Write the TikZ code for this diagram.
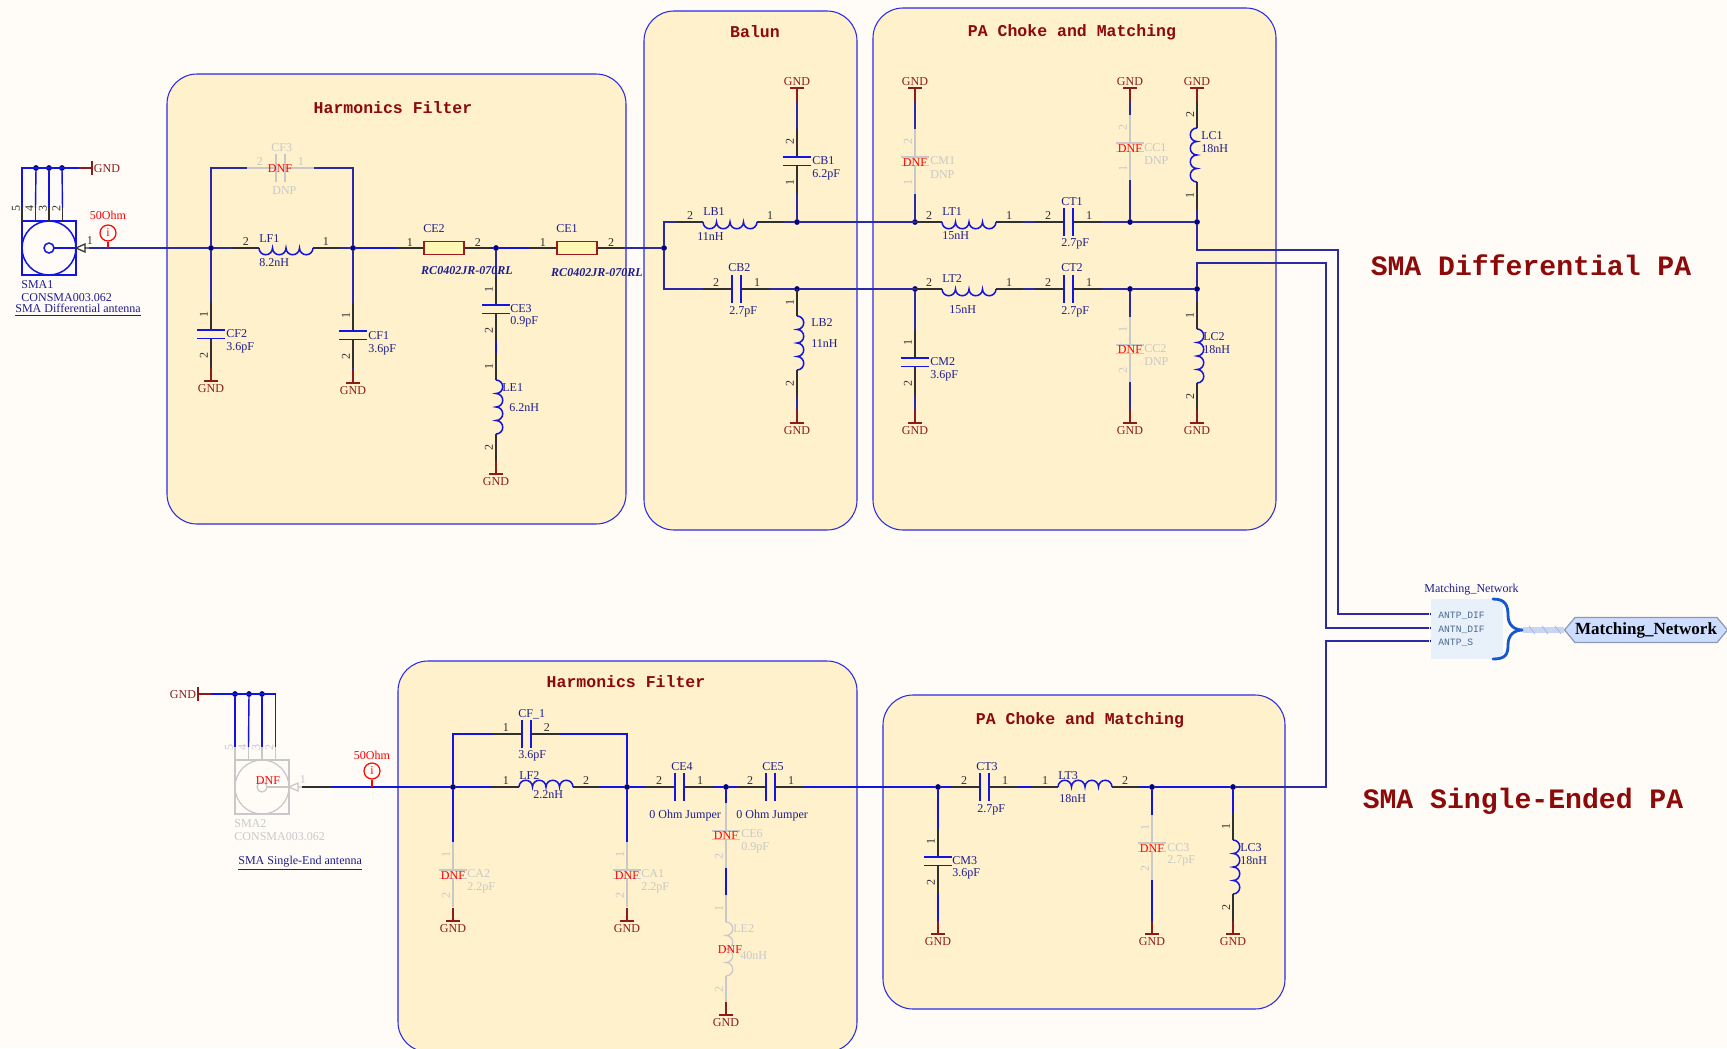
\documentclass[tikz,border=0pt]{standalone}
\usepackage{fontspec}
\setmainfont{Liberation Serif}
\setmonofont{Liberation Mono}
\usetikzlibrary{shapes.symbols,positioning}

\definecolor{paper}{HTML}{FFFCF7}
\definecolor{groupfill}{HTML}{FEF1CC}
\definecolor{groupline}{HTML}{2A2AE8}
\definecolor{wirecol}{HTML}{1414E0}
\definecolor{netcol}{HTML}{2A2AA4}
\definecolor{dotcol}{HTML}{000080}
\definecolor{leadcol}{HTML}{303030}
\definecolor{labcol}{HTML}{1E1E8C}
\definecolor{dnpcol}{HTML}{C8C8C8}
\definecolor{gndcol}{HTML}{8C1C1C}
\definecolor{titlecol}{HTML}{8C0A0A}
\definecolor{bracecol}{HTML}{1458D0}
\definecolor{rescol}{HTML}{FFF7B4}
\definecolor{portfill}{HTML}{CCDDFF}
\definecolor{portline}{HTML}{8A9AB4}
\definecolor{busfill}{HTML}{C8D6F4}
\definecolor{busmark}{HTML}{9FB4E4}
\definecolor{sheetfill}{HTML}{E8F0FA}
\definecolor{sheettext}{HTML}{4A6A90}

\tikzset{
  groupbox/.style = {draw=groupline, fill=groupfill, line width=.6pt, rounded corners=.6cm},
  grouptitle/.style = {text=titlecol, inner sep=0pt, yshift=-.5pt, font=\fontsize{9.4pt}{11pt}\selectfont\ttfamily\bfseries},
  bigtitle/.style = {text=titlecol, inner sep=0pt, font=\fontsize{16pt}{18pt}\selectfont\ttfamily\bfseries},
  wire/.style = {draw=wirecol, line width=.8pt},
  net/.style = {draw=netcol, line width=.85pt},
  lead/.style = {draw=leadcol, line width=.7pt},
  symb/.style = {draw=wirecol, line width=.85pt},
  pinno/.style = {text=leadcol, inner sep=0pt, yshift=-.5pt, font=\fontsize{6.85pt}{8pt}\selectfont},
  lab/.style = {text=labcol, anchor=west, inner sep=0pt, yshift=-.5pt, font=\fontsize{6.85pt}{8pt}\selectfont},
  dnp/.style = {lead/.style={draw=dnpcol, line width=.7pt},
                symb/.style={draw=dnpcol, line width=.7pt},
                pinno/.style={text=dnpcol, inner sep=0pt, yshift=-.5pt, font=\fontsize{6.85pt}{8pt}\selectfont},
                lab/.style={text=dnpcol, anchor=west, inner sep=0pt, yshift=-.5pt, font=\fontsize{6.85pt}{8pt}\selectfont}},
  dnf/.style = {text=red, inner sep=0pt, yshift=-.5pt, font=\fontsize{6.85pt}{8pt}\selectfont},
  gndlab/.style = {text=gndcol, inner sep=0pt, yshift=-.5pt, font=\fontsize{6.85pt}{8pt}\selectfont},
  gndline/.style = {draw=gndcol, line width=.8pt},
  junction/.style = {circle, fill=dotcol, inner sep=0pt, minimum size=.115cm},
  pindot/.style = {circle, fill=dotcol, inner sep=0pt, minimum size=.06cm},
  portlab/.style = {text=sheettext, anchor=west, inner sep=0pt, font=\fontsize{5.5pt}{6pt}\selectfont\ttfamily},
  probe/.style = {circle, draw=red, line width=.7pt, text=red, inner sep=0pt, minimum size=.32cm, font=\fontsize{6.85pt}{8pt}\selectfont}
}

% [options]{name}{x of first plate}{y}{left no}{right no}
\newcommand{\hcap}[6][]{
  \begin{scope}[#1]
    \coordinate (#2l) at (#3-29,#4);
    \coordinate (#2r) at (#3+38,#4);
    \draw[lead] (#2l) -- (#3,#4) (#3+9,#4) -- (#2r);
    \draw[symb] (#3,#4-14) -- (#3,#4+14) (#3+9,#4-14) -- (#3+9,#4+14);
    \node[pinno] (#2na) at (#3-16,#4-7) {#5};
    \node[pinno] (#2nb) at (#3+25,#4-7) {#6};
  \end{scope}
}
% [options]{name}{x}{y of first plate}{top no}{bottom no}
\newcommand{\vcap}[6][]{
  \begin{scope}[#1]
    \coordinate (#2t) at (#3,#4-28);
    \coordinate (#2b) at (#3,#4+37);
    \draw[lead] (#2t) -- (#3,#4) (#3,#4+8.5) -- (#2b);
    \draw[symb] (#3-14,#4) -- (#3+14,#4) (#3-14,#4+8.5) -- (#3+14,#4+8.5);
    \node[pinno,rotate=90] (#2na) at (#3-7,#4-16) {#5};
    \node[pinno,rotate=90] (#2nb) at (#3-7,#4+25) {#6};
  \end{scope}
}
% [options]{name}{x of coil}{y}{start angle}{end angle}{left no}{right no}
\newcommand{\hind}[8][]{
  \begin{scope}[#1]
    \coordinate (#2l) at (#3-27,#4);
    \coordinate (#2r) at (#3+81,#4);
    \draw[lead] (#2l) -- (#3,#4) (#3+54,#4) -- (#2r);
    \draw[symb] (#3,#4) \foreach \k in {1,2,3,4} {arc[start angle=#5, end angle=#6, radius=6.75]};
    \node[pinno] (#2na) at (#3-13,#4-7) {#7};
    \node[pinno] (#2nb) at (#3+67,#4-7) {#8};
  \end{scope}
}
% [options]{name}{x}{y of coil}{start angle}{end angle}{top no}{bottom no}
\newcommand{\vind}[8][]{
  \begin{scope}[#1]
    \coordinate (#2t) at (#3,#4-27);
    \coordinate (#2b) at (#3,#4+81);
    \draw[lead] (#2t) -- (#3,#4) (#3,#4+54) -- (#2b);
    \draw[symb] (#3,#4) \foreach \k in {1,2,3,4} {arc[start angle=#5, end angle=#6, radius=6.75]};
    \node[pinno,rotate=90] (#2na) at (#3-7,#4-14) {#7};
    \node[pinno,rotate=90] (#2nb) at (#3-7,#4+67) {#8};
  \end{scope}
}
% {name}{x}{y}
\newcommand{\hres}[3]{
  \coordinate (#1l) at (#2-27,#3);
  \coordinate (#1r) at (#2+67,#3);
  \draw[lead] (#1l) -- (#2,#3) (#2+40,#3) -- (#1r);
  \draw[draw=gndcol!85!red, fill=rescol, line width=.9pt] (#2,#3-6.5) rectangle (#2+40,#3+6.5);
  \node[pinno] (#1na) at (#2-14,#3-6) {1};
  \node[pinno] (#1nb) at (#2+54,#3-6) {2};
}
% {name}{x}{y of bar}{1 text below, -1 text above}
\newcommand{\gndv}[4]{
  \coordinate (#1) at (#2,#3-13*#4);
  \draw[gndline] (#1) -- (#2,#3) (#2-7,#3) -- (#2+7,#3);
  \node[gndlab] (#1t) at (#2,#3+7*#4) {GND};
}
% {name}{x of bar}{y}{1 text right, -1 text left}
\newcommand{\gndh}[4]{
  \coordinate (#1) at (#2-13*#4,#3);
  \draw[gndline] (#1) -- (#2,#3) (#2,#3-7) -- (#2,#3+7);
  \node[gndlab] (#1t) at (#2+15*#4,#3) {GND};
}
% [options]{name}{x}{y}
\newcommand{\smacon}[4][]{
  \begin{scope}[#1]
    \coordinate (#2o) at (#3+67,#4+27);
    \draw[symb] (#3,#4) rectangle (#3+54,#4+54);
    \draw[symb] (#3+27,#4+27) circle[radius=27] (#3+27,#4+27) circle[radius=5];
    \draw[symb] (#3+32,#4+27) -- (#3+54,#4+27);
    \draw[lead] (#3+54,#4+27) -- (#3+63,#4+23) -- (#3+63,#4+31) -- cycle (#3+63,#4+27) -- (#2o);
    \node[pinno] (#2n) at (#3+68,#4+19) {1};
    \foreach \i/\d/\n in {1/0/5,2/13.5/4,3/27/3,4/40.5/2} {
      \coordinate (#2t\i) at (#3+\d,#4-13);
      \draw[lead] (#2t\i) -- (#3+\d,#4);
      \node[pinno,rotate=90] (#2n\i) at (#3+\d-6,#4-13) {\n};
    }
  \end{scope}
}

\begin{document}
\begin{tikzpicture}[x=.02cm, y=-.02cm]
    \useasboundingbox (0,0) rectangle (1727,1048);
    \fill[paper] (0,0) rectangle (1727,1048);

    \draw[groupbox] (167,74) rectangle (626,524);
    \draw[groupbox] (644,11) rectangle (857,530);
    \draw[groupbox] (873,8) rectangle (1276,530);
    \draw[groupbox] (398,661) rectangle (857,1052);
    \draw[groupbox] (883,695) rectangle (1285,1009);

    \node[grouptitle] (tHFa) at (393,107) {Harmonics Filter};
    \node[grouptitle] (tBal) at (755,31) {Balun};
    \node[grouptitle] (tPAa) at (1072,31) {PA Choke and Matching};
    \node[grouptitle] (tHFb) at (626,681) {Harmonics Filter};
    \node[grouptitle] (tPAb) at (1080,719) {PA Choke and Matching};
    \node[bigtitle] (tDif) at (1531,265) {SMA Differential PA};
    \node[bigtitle] (tSin) at (1523,801) {SMA Single-Ended PA};

    \foreach \nm/\px/\py in {Jb/211/248,Jc/353/248,Jd/496/248,Je/664/248,Jf/797/222,Jg/797/289,
        Jh/915/222,Ji/1130/222,Jj/1197/222,Jk/915/289,Jl/1130/289,Jm/1197/289,
        Jp/453/787,Jq/627/787,Jr/726/787,Js/938/787,Jt/1152/787,Ju/1233/787,
        Sa/36/168,Sb/49/168,Sc/62/168,Sd/235/694,Se/249/694,Sf/262/694} {
      \node[junction] (\nm) at (\px,\py) {};
    }
    \foreach \nm/\px/\py in {mA/1431/614,mB/1431/628,mC/1431/641} {
      \node[pindot] (\nm) at (\px,\py) {};
    }
    \coordinate (nA) at (1338,250);
    \coordinate (nB) at (1326,263);
    \coordinate (nC) at (1326,787);
    \coordinate (SMAbs) at (332,787);

    % differential side
    \smacon{SMAa}{22}{221}
    \gndh{GNDa}{92}{168}{1}
    \hcap[dnp]{CFc}{276}{168}{2}{1}
    \hind{LFa}{259}{248}{180}{0}{2}{1}
    \vcap{CFb}{211}{330}{1}{2}
    \vcap{CFa}{353}{331}{1}{2}
    \gndv{GNDb}{211}{381}{1}
    \gndv{GNDc}{353}{383}{1}
    \hres{CEb}{424}{248}
    \hres{CEa}{557}{248}
    \vcap{CEc}{496}{305}{1}{2}
    \vind{LEa}{496}{380}{270}{450}{1}{2}
    \gndv{GNDd}{496}{474}{1}
    \hind{LBa}{703}{222}{180}{0}{2}{1}
    \hcap{CBb}{732}{289}{2}{1}
    \vcap{CBa}{797}{157}{2}{1}
    \gndv{GNDe}{797}{88}{-1}
    \vind{LBb}{797}{316}{270}{450}{1}{2}
    \gndv{GNDf}{797}{423}{1}
    \hind{LTa}{942}{222}{180}{0}{2}{1}
    \hcap{CTa}{1064}{222}{2}{1}
    \hind{LTb}{942}{289}{180}{0}{2}{1}
    \hcap{CTb}{1064}{289}{2}{1}
    \vcap[dnp]{CMa}{915}{157}{2}{1}
    \gndv{GNDg}{915}{88}{-1}
    \vcap[dnp]{CCa}{1130}{143}{2}{1}
    \gndv{GNDh}{1130}{88}{-1}
    \vind{LCa}{1197}{128}{270}{90}{2}{1}
    \gndv{GNDi}{1197}{88}{-1}
    \vcap{CMb}{915}{358}{1}{2}
    \gndv{GNDj}{915}{423}{1}
    \vcap[dnp]{CCb}{1130}{345}{1}{2}
    \gndv{GNDk}{1130}{423}{1}
    \vind{LCb}{1197}{329}{270}{450}{1}{2}
    \gndv{GNDl}{1197}{423}{1}

    \draw[wire] (SMAat1) |- (GNDa);
    \draw[wire] (SMAat2) -- (Sa);
    \draw[wire] (SMAat3) -- (Sb);
    \draw[wire] (SMAat4) -- (Sc);
    \draw[net] (SMAao) -- (Jb);
    \draw[net] (Jb) -- (LFal);
    \draw[net] (LFar) -- (Jc);
    \draw[net] (Jb) |- (CFcl);
    \draw[net] (Jc) |- (CFcr);
    \draw[net] (Jb) -- (CFbt);
    \draw[net] (Jc) -- (CFat);
    \draw[net] (CFbb) -- (GNDb);
    \draw[net] (CFab) -- (GNDc);
    \draw[wire] (Jc) -- (CEbl);
    \draw[wire] (CEbr) -- (Jd);
    \draw[wire] (Jd) -- (CEal);
    \draw[net] (CEar) -- (Je);
    \draw[net] (Jd) -- (CEct);
    \draw[wire] (CEcb) -- (LEat);
    \draw[net] (Je) |- (LBal);
    \draw[net] (Je) |- (CBbl);
    \draw[net] (LBar) -- (Jf);
    \draw[net] (CBbr) -- (Jg);
    \draw[net] (GNDe) -- (CBat);
    \draw[net] (CBab) -- (Jf);
    \draw[net] (Jg) -- (LBbt);
    \draw[net] (LBbb) -- (GNDf);
    \draw[net] (Jf) -- (LTal);
    \draw[net] (Jg) -- (LTbl);
    \draw[net] (LTar) -- (CTal);
    \draw[net] (LTbr) -- (CTbl);
    \draw[net] (CTar) -- (Ji);
    \draw[net] (CTbr) -- (Jl);
    \draw[net] (Ji) -- (Jj);
    \draw[net] (Jl) -- (Jm);
    \draw[net] (GNDg) -- (CMat);
    \draw[net] (CMab) -- (Jh);
    \draw[net] (GNDh) -- (CCat);
    \draw[net] (CCab) -- (Ji);
    \draw[net] (LCab) -- (Jj);
    \draw[net] (Jk) -- (CMbt);
    \draw[net] (CMbb) -- (GNDj);
    \draw[net] (Jl) -- (CCbt);
    \draw[net] (CCbb) -- (GNDk);
    \draw[net] (Jm) -- (LCbt);
    \draw[net] (Jj) |- (nA) |- (mA);
    \draw[net] (Jm) |- (nB) |- (mB);

    % single ended side
    \smacon[dnp]{SMAb}{235}{760}
    \gndh{GNDm}{198}{694}{-1}
    \hcap{CFd}{522}{734}{1}{2}
    \hind{LFb}{519}{787}{180}{360}{1}{2}
    \vcap[dnp]{CAb}{453}{870}{1}{2}
    \gndv{GNDn}{453}{921}{1}
    \vcap[dnp]{CAa}{627}{870}{1}{2}
    \gndv{GNDo}{627}{921}{1}
    \hcap{CEd}{675}{787}{2}{1}
    \hcap{CEe}{766}{787}{2}{1}
    \vcap[dnp]{CEf}{726}{831}{}{2}
    \vind[dnp]{LEb}{726}{922}{270}{450}{1}{2}
    \gndv{GNDp}{726}{1015}{1}
    \hcap{CTc}{980}{787}{2}{1}
    \hind{LTc}{1058}{787}{180}{360}{1}{2}
    \vcap{CMc}{938}{857}{1}{2}
    \gndv{GNDq}{938}{934}{1}
    \vcap[dnp]{CCc}{1152}{843}{1}{2}
    \gndv{GNDr}{1152}{934}{1}
    \vind{LCc}{1233}{840}{270}{450}{1}{2}
    \gndv{GNDs}{1233}{934}{1}

    \draw[wire] (GNDm) -| (SMAbt4);
    \draw[wire] (Sd) -- (SMAbt1);
    \draw[wire] (Se) -- (SMAbt2);
    \draw[wire] (Sf) -- (SMAbt3);
    \draw[lead] (SMAbo) -- (SMAbs);
    \draw[wire] (SMAbs) -- (Jp);
    \draw[wire] (Jp) -- (LFbl);
    \draw[wire] (LFbr) -- (Jq);
    \draw[wire] (Jp) |- (CFdl);
    \draw[wire] (Jq) |- (CFdr);
    \draw[wire] (Jp) -- (CAbt);
    \draw[wire] (Jq) -- (CAat);
    \draw[wire] (Jq) -- (CEdl);
    \draw[wire] (CEdr) -- (Jr);
    \draw[wire] (Jr) -- (CEel);
    \draw[wire] (CEer) -- (Js);
    \draw[wire] (Jr) -- (CEft);
    \draw[wire] (CEfb) -- (LEbt);
    \draw[wire] (Js) -- (CTcl);
    \draw[wire] (CTcr) -- (LTcl);
    \draw[wire] (LTcr) -- (Jt);
    \draw[wire] (Jt) -- (Ju);
    \draw[wire] (Js) -- (CMct);
    \draw[wire] (CMcb) -- (GNDq);
    \draw[wire] (Jt) -- (CCct);
    \draw[wire] (CCcb) -- (GNDr);
    \draw[wire] (Ju) -- (LCct);
    \draw[net] (Ju) -- (nC) |- (mC);

    % probes
    \coordinate (PRa) at (108,248);
    \coordinate (PRb) at (372,787);
    \node[probe] (PRai) at (108,233) {i};
    \node[probe] (PRbi) at (372,771) {i};
    \draw[red, line width=.7pt] (PRai) -- (PRa);
    \draw[red, line width=.7pt] (PRbi) -- (PRb);
    \node[dnf] (PRat) at (108,215) {50Ohm};
    \node[dnf] (PRbt) at (372,754) {50Ohm};

    % labels
    \foreach \nm/\px/\py/\txt in {
        lSMAa/21/284/SMA1, vSMAa/21/297/CONSMA003.062,
        lLFa/259/238/LF1, vLFa/259/262/8.2nH,
        lCFb/226/333/CF2, vCFb/226/347/3.6pF, lCFa/368/335/CF1, vCFa/368/349/3.6pF,
        lCEc/510/308/CE3, vCEc/510/321/0.9pF, lLEa/502/387/LE1, vLEa/509/407/6.2nH,
        lCEb/423/228/CE2, lCEa/556/228/CE1,
        lLBa/703/211/LB1, vLBa/697/236/11nH, lCBb/728/267/CB2, vCBb/729/311/2.7pF,
        lLBb/811/322/LB2, vLBb/811/343/11nH, lCBa/812/160/CB1, vCBa/812/174/6.2pF,
        lLTa/942/211/LT1, vLTa/942/235/15nH, lCTa/1061/201/CT1, vCTa/1061/243/2.7pF,
        lLTb/942/278/LT2, vLTb/949/309/15nH, lCTb/1061/267/CT2, vCTb/1061/311/2.7pF,
        lLCa/1201/135/LC1, vLCa/1201/148/18nH, lLCb/1203/336/LC2, vLCb/1203/349/18nH,
        lCMb/930/361/CM2, vCMb/930/375/3.6pF,
        lCFd/518/713/CF\_1, vCFd/518/755/3.6pF, lLFb/519/775/LF2, vLFb/533/794/2.2nH,
        lCEd/671/766/CE4, lCEe/762/766/CE5,
        vCEd/649/815/0 Ohm Jumper, vCEe/736/815/0 Ohm Jumper,
        lCTc/976/766/CT3, vCTc/977/809/2.7pF, lLTc/1058/775/LT3, vLTc/1059/798/18nH,
        lCMc/952/860/CM3, vCMc/952/873/3.6pF, lLCc/1240/847/LC3, vLCc/1240/860/18nH,
        lMat/1424/589/Matching\_Network} {
      \node[lab] (\nm) at (\px,\py) {\txt};
    }
    \node[lab] (lSDa) at (15,309) {\underline{SMA Differential antenna}};
    \node[lab] (lSDb) at (238,862) {\underline{SMA Single-End antenna}};
    \node[lab, font=\fontsize{6.85pt}{8pt}\selectfont\bfseries\itshape, anchor=center] (vCEb) at (467,270) {RC0402JR-070RL};
    \node[lab, font=\fontsize{6.85pt}{8pt}\selectfont\bfseries\itshape, anchor=center] (vCEa) at (597,272) {RC0402JR-070RL};

    \begin{scope}[dnp]
      \foreach \nm/\px/\py/\txt in {
          lCFc/271/147/CF3, vCFc/272/190/DNP,
          lCMa/930/160/CM1, vCMa/930/174/DNP, lCCa/1144/147/CC1, vCCa/1144/160/DNP,
          lCCb/1144/348/CC2, vCCb/1144/361/DNP,
          lSMAb/234/823/SMA2, vSMAb/234/836/CONSMA003.062,
          lCAb/467/873/CA2, vCAb/467/887/2.2pF, lCAa/641/873/CA1, vCAa/641/887/2.2pF,
          lCEf/741/833/CE6, vCEf/741/847/0.9pF, lLEb/733/928/LE2, vLEb/740/955/40nH,
          lCCc/1167/847/CC3, vCCc/1167/860/2.7pF} {
        \node[lab] (\nm) at (\px,\py) {\txt};
      }
    \end{scope}

    \foreach \nm/\px/\py in {Dm/280/168, Dn/915/162, Do/1130/148, Dp/1130/349, Dq/268/780,
        Dr/453/875, Ds/627/875, Dt/726/835, Du/730/949, Dv/1152/848} {
      \node[dnf] (\nm) at (\px,\py) {DNF};
    }

    % sheet symbol and port
    \fill[sheetfill] (1431,599) rectangle (1503,659);
    \foreach \nm/\py/\txt in {pA/616/ANTP\_DIF, pB/630/ANTN\_DIF, pC/643/ANTP\_S} {
      \node[portlab] (\nm) at (1438,\py) {\txt};
    }
    \coordinate (mT) at (1523,630);
    \node[signal, signal to=west and east, signal pointer angle=100, draw=portline, fill=portfill, line width=.7pt,
          minimum width=3.2cm, minimum height=.5cm, inner xsep=0pt, inner ysep=0pt, font=\fontsize{9.7pt}{12pt}\selectfont\bfseries] (mnport) at (1646,630) {Matching\_Network};
    \draw[busfill, line width=3pt] (mT) -- (mnport.west);
    \foreach \hx in {1532,1545,1558} {
      \draw[busmark, line width=.4pt] (\hx-3,626) -- (\hx+3,634);
    }
    \draw[bracecol, line width=1.6pt, line cap=round] (1493,599) .. controls (1505,599) and (1508,605) .. (1508,615)
      .. controls (1508,625) and (1514,630) .. (mT) .. controls (1514,630) and (1508,635) .. (1508,645)
      .. controls (1508,655) and (1505,659) .. (1493,659);
\end{tikzpicture}
\end{document}
